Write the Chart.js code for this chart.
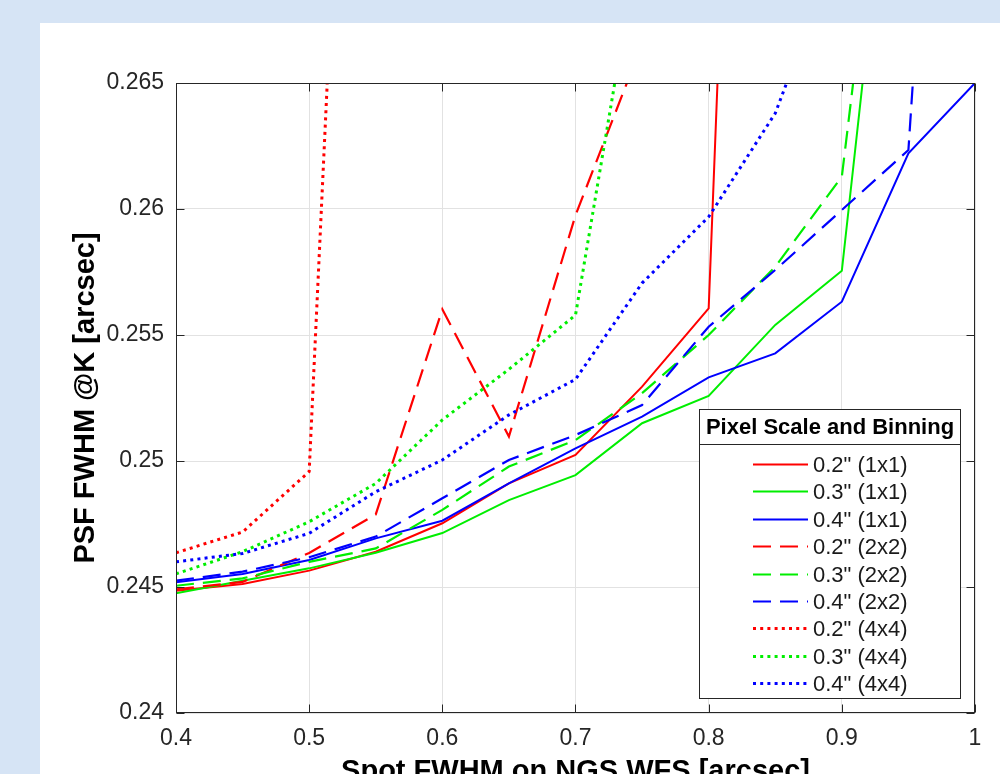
<!DOCTYPE html>
<html><head><meta charset="utf-8">
<script src="https://cdn.jsdelivr.net/npm/chart.js@4"></script>
<style>
html,body{margin:0;padding:0;width:1000px;height:774px;overflow:hidden;background:#d6e4f5;}
#panel{position:absolute;left:40px;top:23px;width:960px;height:751px;background:#ffffff;}
#wrap{position:absolute;left:0;top:0;width:1000px;height:800px;}
</style></head><body>
<div id="panel"></div>
<div id="wrap"><canvas id="c" width="1000" height="800"></canvas></div>
<script>
// ---- data ----
const xValues = [0.4, 0.45, 0.5, 0.55, 0.6, 0.65, 0.7, 0.75, 0.8, 0.85, 0.9, 0.95, 1.0];
const seriesLabels = ['0.2" (1x1)', '0.3" (1x1)', '0.4" (1x1)', '0.2" (2x2)', '0.3" (2x2)', '0.4" (2x2)', '0.2" (4x4)', '0.3" (4x4)', '0.4" (4x4)'];
const red1x1   = [0.24485, 0.24512, 0.24565, 0.2464, 0.24753, 0.24911, 0.25024, 0.25295, 0.25606, 0.3236];
const green1x1 = [0.24475, 0.24525, 0.24574, 0.24636, 0.24714, 0.24845, 0.24944, 0.2515, 0.25258, 0.2554, 0.25755, 0.2815];
const blue1x1  = [0.24519, 0.24552, 0.24607, 0.24693, 0.24763, 0.24911, 0.2505, 0.25176, 0.25332, 0.25427, 0.25632, 0.26221, 0.265];
const red2x2   = [0.24491, 0.2452, 0.24635, 0.24788, 0.25602, 0.25097, 0.25975, 0.26655];
const green2x2 = [0.24505, 0.24534, 0.246, 0.24653, 0.24806, 0.24978, 0.25083, 0.25269, 0.255, 0.25771, 0.26128, 0.2832];
const blue2x2  = [0.24525, 0.24561, 0.24618, 0.247, 0.24852, 0.25004, 0.25103, 0.25222, 0.25533, 0.25758, 0.25996, 0.26234, 0.3025];
const red4x4   = [0.24636, 0.24718, 0.24958, 0.3064];
const green4x4 = [0.24552, 0.2464, 0.24759, 0.24911, 0.25163, 0.25364, 0.25579, 0.2714];
const blue4x4  = [0.246, 0.24633, 0.24713, 0.24878, 0.25004, 0.25183, 0.25324, 0.25706, 0.25969, 0.2638, 0.2708];
const xTickValues = [0.4, 0.5, 0.6, 0.7, 0.8, 0.9, 1.0];
const xTickLabels = ['0.4', '0.5', '0.6', '0.7', '0.8', '0.9', '1'];
const yTickValues = [0.24, 0.245, 0.25, 0.255, 0.26, 0.265];
const yTickLabels = ['0.24', '0.245', '0.25', '0.255', '0.26', '0.265'];
const xTitle = 'Spot FWHM on NGS WFS [arcsec]';
const yTitle = 'PSF FWHM @K [arcsec]';
const legendTitle = 'Pixel Scale and Binning';

// ---- styles ----
const seriesValues = [red1x1, green1x1, blue1x1, red2x2, green2x2, blue2x2, red4x4, green4x4, blue4x4];
const colors = ['#ff0000', '#00ee00', '#0000ff'];
const styles = [
  {w: 2, dash: []},
  {w: 2.2, dash: [18, 9]},
  {w: 3, dash: [3, 4.2]}
];

const datasets = seriesValues.map((vals, i) => {
  const st = styles[Math.floor(i / 3)];
  return {
    label: seriesLabels[i],
    data: vals.map((v, j) => ({x: xValues[j], y: v})),
    borderColor: colors[i % 3],
    backgroundColor: colors[i % 3],
    borderWidth: st.w,
    borderDash: st.dash,
    borderCapStyle: 'butt',
    borderJoinStyle: 'miter',
    pointRadius: 0,
    tension: 0,
    fill: false,
    clip: 0,
    order: 9 - i
  };
});

const boxPlugin = {
  id: 'boxTicksLegend',
  afterDatasetsDraw(chart) {
    const {ctx, chartArea: a, scales: {x, y}} = chart;
    ctx.save();
    ctx.setLineDash([]);
    ctx.strokeStyle = '#262626';
    ctx.lineWidth = 1;
    const L = Math.round(a.left) + 0.5, R = Math.round(a.right) - 0.5;
    const T = Math.round(a.top) + 0.5, B = Math.round(a.bottom) - 0.5;
    ctx.strokeRect(L, T, R - L, B - T);
    ctx.beginPath();
    x.ticks.forEach(t => {
      const px = Math.round(x.getPixelForValue(t.value)) + 0.5;
      ctx.moveTo(px, B); ctx.lineTo(px, B - 8);
      ctx.moveTo(px, T); ctx.lineTo(px, T + 8);
    });
    y.ticks.forEach(t => {
      const py = Math.round(y.getPixelForValue(t.value)) + 0.5;
      ctx.moveTo(L, py); ctx.lineTo(L + 8, py);
      ctx.moveTo(R, py); ctx.lineTo(R - 8, py);
    });
    ctx.stroke();

    // legend box
    const lx = 699.5, ly = 409.5, lw = 261, lh = 289;
    ctx.fillStyle = '#ffffff';
    ctx.fillRect(lx, ly, lw, lh);
    ctx.strokeStyle = '#262626';
    ctx.strokeRect(lx, ly, lw, lh);
    ctx.beginPath();
    ctx.moveTo(lx, 444.5); ctx.lineTo(lx + lw, 444.5);
    ctx.stroke();
    ctx.fillStyle = '#000000';
    ctx.font = 'bold 22px "Liberation Sans", Arial, sans-serif';
    ctx.textAlign = 'center';
    ctx.textBaseline = 'middle';
    ctx.fillText(legendTitle, lx + lw / 2, 427.5);
    ctx.font = '22px "Liberation Sans", Arial, sans-serif';
    ctx.textAlign = 'left';
    chart.data.datasets.forEach((ds, i) => {
      const yy = Math.round(464 + i * 27.4) + 0.5;
      ctx.save();
      ctx.strokeStyle = ds.borderColor;
      ctx.lineWidth = ds.borderWidth;
      ctx.lineCap = 'butt';
      ctx.setLineDash(ds.borderDash);
      ctx.beginPath();
      ctx.moveTo(753, yy); ctx.lineTo(808, yy);
      ctx.stroke();
      ctx.restore();
      ctx.fillStyle = '#1a1a1a';
      ctx.fillText(ds.label, 813, yy + 1);
    });
    ctx.restore();
  }
};

const tickFont = {family: '"Liberation Sans", Arial, sans-serif', size: 23};
const titleFont = {family: '"Liberation Sans", Arial, sans-serif', size: 29, weight: 'bold', lineHeight: 1};

new Chart(document.getElementById('c'), {
  type: 'line',
  data: {datasets},
  options: {
    responsive: false,
    animation: false,
    devicePixelRatio: 1,
    events: [],
    layout: {padding: {top: 83, right: 25, bottom: 0, left: 0}},
    plugins: {legend: {display: false}, tooltip: {enabled: false}, title: {display: false}},
    scales: {
      x: {
        type: 'linear',
        min: 0.4, max: 1.0,
        afterBuildTicks: s => { s.ticks = xTickValues.map(v => ({value: v})); },
        afterFit: s => { s.height = 87; },
        ticks: {
          font: tickFont, color: '#262626', padding: 12, maxRotation: 0, autoSkip: false,
          callback: (v) => { const k = xTickValues.findIndex(t => Math.abs(t - v) < 1e-9); return k >= 0 ? xTickLabels[k] : ''; }
        },
        grid: {color: '#e2e2e2', lineWidth: 1, drawTicks: false},
        border: {display: false},
        title: {display: true, text: xTitle, font: titleFont, color: '#000000', padding: {top: 0, bottom: 14}}
      },
      y: {
        type: 'linear',
        min: 0.24, max: 0.265,
        afterBuildTicks: s => { s.ticks = yTickValues.map(v => ({value: v})); },
        afterFit: s => { s.width = 176; },
        ticks: {
          font: tickFont, color: '#262626', padding: 12, autoSkip: false,
          callback: (v) => { const k = yTickValues.findIndex(t => Math.abs(t - v) < 1e-9); return k >= 0 ? yTickLabels[k] : ''; }
        },
        grid: {color: '#e2e2e2', lineWidth: 1, drawTicks: false},
        border: {display: false},
        title: {display: true, text: yTitle, font: titleFont, color: '#000000', padding: {top: 71, bottom: 0}}
      }
    }
  },
  plugins: [boxPlugin]
});
</script>
</body></html>
